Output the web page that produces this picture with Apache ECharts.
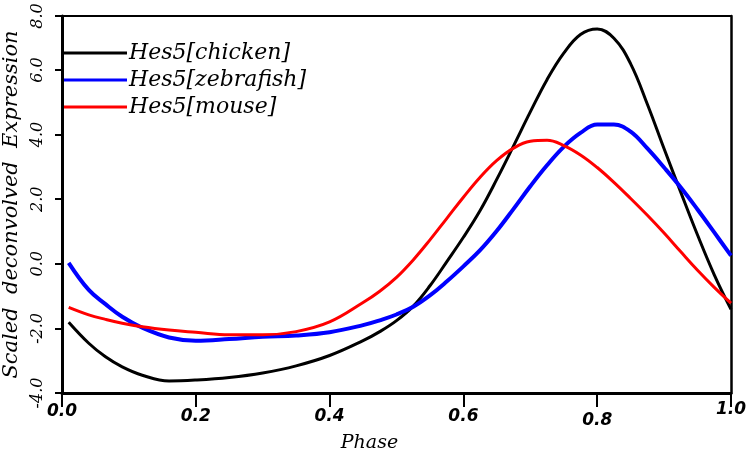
<!DOCTYPE html>
<html>
<head>
<meta charset="utf-8">
<script src="https://cdn.jsdelivr.net/npm/echarts@6/dist/echarts.min.js"></script>
<style>
html,body{margin:0;padding:0;background:#fff;}
#chart{width:751px;height:455px;}
</style>
</head>
<body>
<div id="chart"></div>
<script>
var phase = [0.01, 0.04, 0.065, 0.09, 0.12, 0.16, 0.20, 0.25, 0.30, 0.35, 0.40, 0.45,
  0.475, 0.50, 0.525, 0.55, 0.575, 0.60, 0.625, 0.65, 0.675, 0.70, 0.725, 0.75, 0.775, 0.80, 0.825, 0.85, 0.875, 0.90, 0.925, 0.95, 0.975, 1.00];
var chicken = [-1.81, -2.46, -2.88, -3.19, -3.45, -3.63, -3.60, -3.52, -3.38, -3.16, -2.84, -2.38,
  -2.10, -1.76, -1.31, -0.68, 0.06, 0.82, 1.65, 2.62, 3.65, 4.70, 5.70, 6.52, 7.10, 7.27, 6.98, 6.19, 4.94, 3.56, 2.21, 0.89, -0.34, -1.41];
var zebrafish = [0.03, -0.81, -1.25, -1.64, -1.98, -2.28, -2.38, -2.33, -2.26, -2.22, -2.12, -1.90,
  -1.75, -1.57, -1.33, -0.98, -0.55, -0.08, 0.42, 1.02, 1.70, 2.40, 3.05, 3.62, 4.05, 4.31, 4.31, 4.09, 3.57, 2.98, 2.36, 1.68, 0.97, 0.25];
var mouse = [-1.35, -1.58, -1.72, -1.84, -1.95, -2.05, -2.12, -2.20, -2.20, -2.10, -1.80, -1.20,
  -0.85, -0.42, 0.12, 0.74, 1.40, 2.06, 2.68, 3.20, 3.58, 3.79, 3.82, 3.66, 3.37, 2.98, 2.52, 2.02, 1.50, 0.95, 0.37, -0.20, -0.73, -1.22];
var seriesNames = ['Hes5[chicken]', 'Hes5[zebrafish]', 'Hes5[mouse]'];
var xTicks = [0.0, 0.2, 0.4, 0.6, 0.8, 1.0];
var yTicks = [-4.0, -2.0, 0.0, 2.0, 4.0, 6.0, 8.0];

function pairs(ys){ return phase.map(function(p,i){ return [p, ys[i]]; }); }

var serif = "'DejaVu Serif', serif";
var sansB = "'DejaVu Sans', sans-serif";
var chart = echarts.init(document.getElementById('chart'));
function xs(pad){ return {fontFamily:sansB, fontWeight:'bold', fontStyle:'italic', fontSize:17, color:'#000', padding:[pad,0,0,0]}; }
chart.setOption({
  animation: false,
  backgroundColor: '#fff',
  grid: {left: 62, right: 20, top: 16, bottom: 62, containLabel: false, outerBoundsMode: 'none'},
  legend: {
    data: seriesNames,
    orient: 'vertical',
    left: 64, top: 42,
    padding: 0,
    icon: 'rect',
    itemWidth: 63, itemHeight: 3,
    itemGap: 5,
    textStyle: {fontFamily: serif, fontStyle: 'italic', fontSize: 22, color: '#000', padding:[0,0,0,-3], lineHeight: 22}
  },
  xAxis: [{
    type: 'value', min: 0, max: 1, interval: 0.2,
    name: 'Phase', nameLocation: 'middle', nameGap: 36,
    nameTextStyle: {fontFamily: serif, fontStyle: 'italic', fontSize: 19, color: '#000', padding:[0,54,0,0]},
    axisLine: {show: true, onZero: false, lineStyle: {color: '#000', width: 3}},
    axisTick: {show: true, length: 14, lineStyle: {color: '#000', width: 2}},
    splitLine: {show: false},
    axisLabel: {margin: 8, formatter: function(v){
      var s = v.toFixed(1);
      if (Math.abs(v) < 1e-9) return '{a|' + s + '}';
      if (Math.abs(v - 0.8) < 1e-9) return '{c|' + s + '}';
      if (Math.abs(v - 1) < 1e-9) return '{d|' + s + '}';
      return '{b|' + s + '}';
    }, rich: {a: xs(2), b: xs(7), c: xs(11), d: xs(0)}}
  }, {
    type: 'value', position: 'top', min: 0, max: 1,
    axisLine: {show: true, onZero: false, lineStyle: {color: '#000', width: 2}},
    axisTick: {show: false}, axisLabel: {show: false}, splitLine: {show: false}
  }],
  yAxis: [{
    type: 'value', min: -4, max: 7.67, interval: 2,
    name: 'Scaled  deconvolved  Expression', nameLocation: 'middle', nameGap: 37,
    nameTextStyle: {fontFamily: serif, fontStyle: 'italic', fontSize: 21, color: '#000'},
    axisLine: {show: true, onZero: false, lineStyle: {color: '#000', width: 3}},
    axisTick: {show: true, length: 7, lineStyle: {color: '#000', width: 2}},
    splitLine: {show: false},
    axisLabel: {rotate: 90, margin: 16, fontFamily: serif, fontStyle: 'italic', fontSize: 16, color: '#000',
      formatter: function(v){ if (v > 7) return yTicks[yTicks.length-1].toFixed(1); return v.toFixed(1); }}
  }, {
    type: 'value', position: 'right', min: -4, max: 7.67,
    axisLine: {show: true, onZero: false, lineStyle: {color: '#000', width: 2.5}},
    axisTick: {show: false}, axisLabel: {show: false}, splitLine: {show: false}
  }],
  series: [
    {name: seriesNames[0], type: 'line', data: pairs(chicken), smooth: 0.4, symbol: 'none', lineStyle: {color: '#000000', width: 3}, itemStyle: {color: '#000000'}},
    {name: seriesNames[1], type: 'line', data: pairs(zebrafish), smooth: 0.4, symbol: 'none', lineStyle: {color: '#0000ff', width: 4}, itemStyle: {color: '#0000ff'}},
    {name: seriesNames[2], type: 'line', data: pairs(mouse), smooth: 0.4, symbol: 'none', lineStyle: {color: '#ff0000', width: 3}, itemStyle: {color: '#ff0000'}}
  ]
});
</script>
</body>
</html>
